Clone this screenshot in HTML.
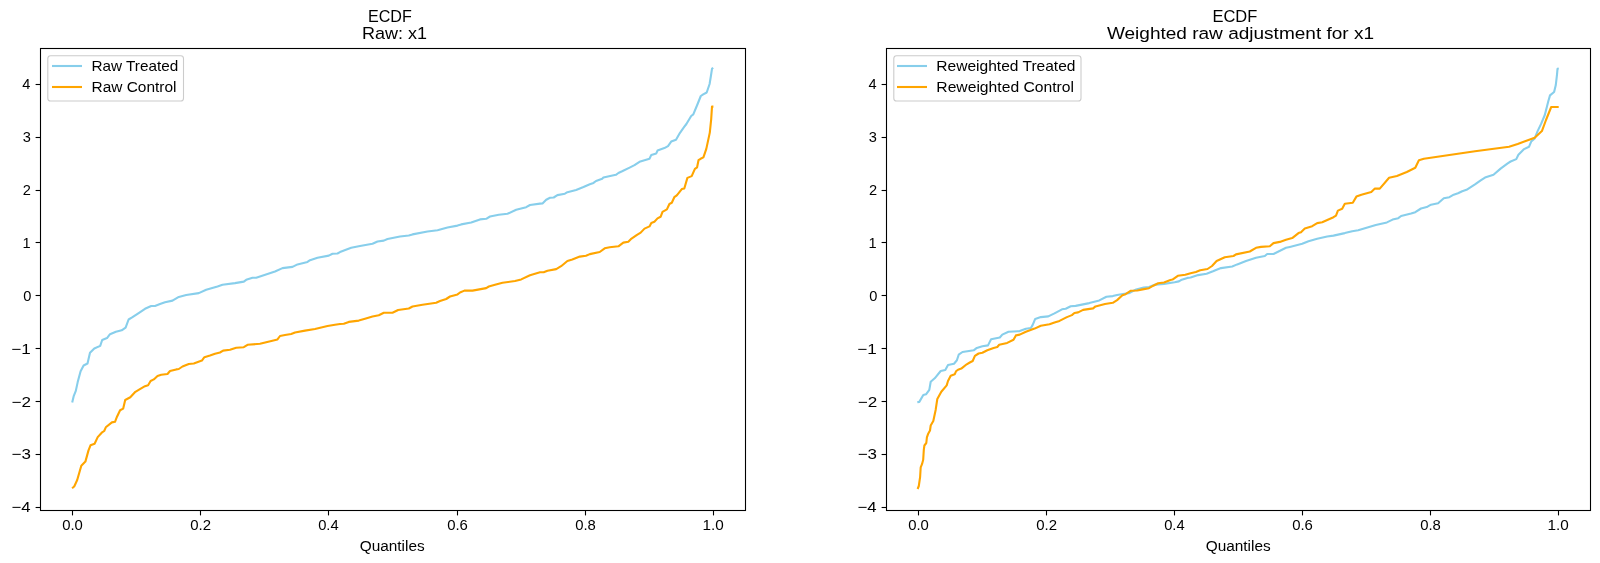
<!DOCTYPE html>
<html><head><meta charset="utf-8"><style>
html,body{margin:0;padding:0;background:#fff;}
svg{display:block;will-change:transform;}
text{font-family:"Liberation Sans",sans-serif;fill:#000;}
.tk{stroke:#000;stroke-width:1.1;}
.sp{fill:none;stroke:#000;stroke-width:1.1;}
.c1{fill:none;stroke:#87ceeb;stroke-width:2.1;stroke-linejoin:round;stroke-linecap:butt;}
.c2{fill:none;stroke:#ffa500;stroke-width:2.1;stroke-linejoin:round;stroke-linecap:butt;}
.lg{fill:#fff;fill-opacity:0.8;stroke:#cccccc;stroke-width:1.1;}
</style></head><body>
<svg width="1600" height="563" viewBox="0 0 1600 563">
<rect width="1600" height="563" fill="#fff"/>
<line x1="72.50" y1="510.5" x2="72.50" y2="515.40" class="tk"/>
<line x1="200.50" y1="510.5" x2="200.50" y2="515.40" class="tk"/>
<line x1="328.50" y1="510.5" x2="328.50" y2="515.40" class="tk"/>
<line x1="457.50" y1="510.5" x2="457.50" y2="515.40" class="tk"/>
<line x1="585.50" y1="510.5" x2="585.50" y2="515.40" class="tk"/>
<line x1="713.50" y1="510.5" x2="713.50" y2="515.40" class="tk"/>
<line x1="35.60" y1="507.50" x2="40.5" y2="507.50" class="tk"/>
<line x1="35.60" y1="454.50" x2="40.5" y2="454.50" class="tk"/>
<line x1="35.60" y1="401.50" x2="40.5" y2="401.50" class="tk"/>
<line x1="35.60" y1="348.50" x2="40.5" y2="348.50" class="tk"/>
<line x1="35.60" y1="295.50" x2="40.5" y2="295.50" class="tk"/>
<line x1="35.60" y1="242.50" x2="40.5" y2="242.50" class="tk"/>
<line x1="35.60" y1="190.50" x2="40.5" y2="190.50" class="tk"/>
<line x1="35.60" y1="137.50" x2="40.5" y2="137.50" class="tk"/>
<line x1="35.60" y1="84.50" x2="40.5" y2="84.50" class="tk"/>
<line x1="918.50" y1="510.5" x2="918.50" y2="515.40" class="tk"/>
<line x1="1046.50" y1="510.5" x2="1046.50" y2="515.40" class="tk"/>
<line x1="1174.50" y1="510.5" x2="1174.50" y2="515.40" class="tk"/>
<line x1="1302.50" y1="510.5" x2="1302.50" y2="515.40" class="tk"/>
<line x1="1430.50" y1="510.5" x2="1430.50" y2="515.40" class="tk"/>
<line x1="1558.50" y1="510.5" x2="1558.50" y2="515.40" class="tk"/>
<line x1="881.60" y1="507.50" x2="886.5" y2="507.50" class="tk"/>
<line x1="881.60" y1="454.50" x2="886.5" y2="454.50" class="tk"/>
<line x1="881.60" y1="401.50" x2="886.5" y2="401.50" class="tk"/>
<line x1="881.60" y1="348.50" x2="886.5" y2="348.50" class="tk"/>
<line x1="881.60" y1="295.50" x2="886.5" y2="295.50" class="tk"/>
<line x1="881.60" y1="242.50" x2="886.5" y2="242.50" class="tk"/>
<line x1="881.60" y1="190.50" x2="886.5" y2="190.50" class="tk"/>
<line x1="881.60" y1="137.50" x2="886.5" y2="137.50" class="tk"/>
<line x1="881.60" y1="84.50" x2="886.5" y2="84.50" class="tk"/>
<polyline class="c1" points="72.2,402.6 73.8,395.8 75.8,390.9 77.7,382.1 80.6,371.3 83.6,365.5 87.5,363.5 90.0,352.8 94.3,348.5 100.2,345.9 102.2,340.0 107.0,338.1 110.0,334.2 115.9,331.7 121.7,330.3 125.6,327.7 128.6,319.5 132.5,317.2 138.3,313.3 145.0,308.8 151.2,306.0 155.0,306.0 160.0,304.0 165.0,302.2 172.5,300.6 178.8,296.9 186.2,295.0 198.8,293.1 206.2,289.8 217.5,286.5 222.5,284.8 235.0,283.1 243.8,281.6 246.2,279.8 252.5,277.8 256.2,277.8 275.0,271.5 282.5,268.1 292.5,266.9 297.5,264.4 307.5,261.9 310.0,260.2 317.5,257.8 328.8,255.6 332.5,253.8 337.5,253.5 340.0,252.1 351.2,247.8 360.0,246.0 372.5,243.8 377.5,241.5 383.8,240.6 387.5,239.0 400.0,236.5 408.8,235.5 412.5,234.4 427.5,231.5 437.5,230.2 447.5,227.5 457.5,225.6 461.2,224.4 471.2,222.5 480.0,219.4 486.2,218.8 490.0,216.5 498.8,214.8 507.5,213.8 516.2,209.8 526.2,207.2 530.0,205.0 540.0,203.6 542.5,203.4 546.2,199.7 550.0,197.8 553.7,197.5 557.4,195.1 564.9,193.7 567.4,192.2 576.1,190.0 583.5,187.0 589.8,184.2 593.5,182.9 596.0,181.0 602.2,178.8 603.4,177.6 615.9,174.8 618.4,173.0 622.1,171.3 629.6,167.6 634.5,165.1 639.5,161.8 649.5,158.7 651.3,154.9 656.3,153.4 657.5,150.6 664.4,148.1 668.0,146.1 671.2,141.6 676.0,139.7 680.0,132.8 684.0,127.2 686.4,124.0 691.2,116.0 693.3,114.4 697.6,104.0 700.8,96.0 703.2,94.4 706.7,92.5 709.6,84.0 710.9,76.0 712.0,68.8 713.1,67.7"/>
<polyline class="c2" points="72.1,488.2 74.2,486.5 77.2,480.0 81.3,465.7 85.4,461.6 88.5,450.4 90.5,445.3 94.6,443.7 97.7,437.1 101.7,432.7 104.2,431.0 105.8,427.3 111.9,422.4 115.0,421.8 117.0,416.7 120.1,410.2 123.2,408.6 125.2,400.0 130.3,397.3 135.4,391.8 139.5,389.4 145.0,386.2 148.1,385.2 150.6,381.0 153.8,379.4 157.5,376.0 161.2,374.8 167.5,374.0 170.0,371.0 176.2,369.4 178.8,369.0 182.5,366.5 188.8,364.0 193.8,363.5 201.9,360.6 204.4,357.2 210.0,355.6 215.0,353.8 220.0,352.5 223.1,350.6 230.0,349.8 236.2,347.8 243.8,347.2 247.5,344.8 260.0,343.8 266.2,342.2 277.5,339.4 280.0,336.0 285.0,335.0 291.2,334.0 295.0,332.5 305.0,330.6 315.0,329.0 327.5,326.0 335.0,324.8 340.0,324.0 343.8,323.8 348.8,321.9 358.8,320.6 365.0,318.8 372.5,316.5 378.8,315.2 383.8,312.8 392.5,312.8 398.1,310.0 408.8,308.5 412.5,306.5 422.5,304.8 436.2,302.8 440.0,301.0 446.2,299.0 450.0,296.5 457.5,294.4 460.0,292.5 464.4,290.6 472.5,290.6 486.2,288.1 488.8,286.5 495.0,284.8 502.5,282.8 515.0,281.0 521.2,279.4 530.0,275.2 540.0,272.3 543.7,272.2 547.5,270.7 556.2,269.1 561.1,266.2 567.4,261.0 572.3,259.5 579.8,256.6 586.0,255.7 589.8,254.1 599.7,252.0 604.7,248.3 609.7,247.3 618.4,246.3 623.3,242.6 628.3,241.7 630.8,239.2 637.0,234.9 640.7,232.6 644.5,228.6 649.5,226.4 651.3,223.0 654.4,221.8 657.5,218.4 660.6,216.8 662.5,211.8 666.9,209.4 669.4,204.0 671.8,202.8 674.3,197.2 676.8,195.3 681.8,189.1 684.3,188.5 687.4,177.9 691.7,176.1 694.9,168.8 697.1,167.3 698.5,160.2 700.6,158.8 703.4,157.4 706.3,148.9 709.8,132.6 711.2,119.1 712.0,106.6 713.4,106.6"/>
<polyline class="c1" points="917.3,402.3 919.3,401.9 923.3,395.0 926.0,394.3 929.3,389.9 930.7,381.7 934.7,378.3 940.7,371.0 945.3,369.9 948.0,365.0 954.0,363.7 956.9,360.3 958.7,354.7 962.5,352.0 967.4,351.2 973.7,350.3 976.8,347.9 982.4,346.2 988.0,345.4 991.1,339.2 999.8,337.5 1002.3,334.6 1008.5,331.7 1019.7,331.1 1025.9,328.8 1030.9,328.0 1032.7,324.9 1035.2,318.9 1040.8,317.1 1048.3,316.4 1054.5,313.4 1062.0,309.3 1065.7,308.7 1070.7,306.2 1075.6,305.9 1089.3,303.1 1099.3,300.4 1106.4,296.7 1112.8,296.1 1117.1,295.0 1124.5,293.7 1128.8,293.2 1136.2,289.4 1143.7,287.5 1149.0,287.1 1155.4,284.6 1164.0,283.9 1174.6,282.2 1178.9,281.4 1181.0,280.1 1187.4,277.9 1190.6,277.5 1198.1,275.1 1206.6,273.7 1213.0,271.3 1216.0,270.0 1221.0,268.1 1232.2,266.5 1237.2,264.4 1246.0,261.0 1256.0,257.8 1264.8,256.0 1267.2,254.0 1273.5,254.0 1286.0,247.8 1289.8,246.9 1302.2,243.8 1308.5,241.2 1317.2,238.8 1327.2,236.5 1333.5,235.6 1344.8,233.1 1352.2,231.2 1358.2,230.3 1375.8,225.0 1386.9,222.4 1392.6,219.6 1398.3,218.2 1401.1,216.0 1411.1,213.6 1415.3,212.2 1421.0,208.5 1426.7,207.1 1431.0,204.7 1438.1,203.3 1443.8,198.3 1449.4,197.2 1453.7,194.7 1458.0,193.3 1462.2,191.2 1466.5,189.8 1475.0,184.4 1480.7,180.4 1485.0,177.6 1493.5,174.7 1500.6,168.6 1507.7,163.3 1510.6,161.5 1516.3,159.1 1518.4,154.8 1521.9,151.3 1524.1,149.1 1529.1,146.7 1531.2,141.6 1534.7,138.4 1537.6,131.1 1541.1,123.9 1544.8,115.0 1548.3,101.2 1550.0,95.4 1554.1,92.0 1555.8,85.0 1557.0,74.6 1557.5,68.9 1558.7,68.3"/>
<polyline class="c2" points="917.6,489.0 918.8,486.0 920.1,477.2 920.7,467.3 922.0,464.2 923.2,459.8 923.8,449.9 924.4,445.5 926.3,443.0 926.9,437.4 928.2,433.7 930.0,430.5 930.7,425.5 933.3,421.0 935.7,409.7 937.3,399.0 941.3,391.7 946.7,385.4 948.0,381.0 950.7,375.7 954.7,374.3 956.0,371.3 958.0,369.7 961.3,368.6 966.7,364.3 969.8,362.5 972.7,361.0 974.9,355.9 978.6,353.5 982.4,352.8 987.3,350.3 993.6,347.9 997.3,347.0 999.2,344.8 1007.2,342.9 1013.5,339.8 1015.9,335.4 1019.7,334.6 1025.9,331.7 1034.6,328.6 1040.8,325.8 1049.5,324.2 1054.5,322.4 1059.5,320.9 1066.9,317.1 1071.9,315.1 1074.4,313.0 1078.1,312.4 1083.1,309.9 1093.1,308.4 1095.5,306.4 1105.0,304.0 1112.8,302.8 1117.1,300.1 1122.4,295.3 1125.6,294.2 1130.9,290.7 1137.3,290.5 1142.6,289.4 1149.0,288.2 1153.3,285.7 1158.1,283.3 1164.0,282.5 1170.4,280.1 1172.5,279.6 1177.8,275.8 1185.3,274.7 1190.6,273.2 1195.9,271.9 1200.2,270.3 1207.5,269.0 1212.0,266.0 1216.6,261.0 1224.8,257.2 1233.5,256.0 1236.0,254.4 1249.8,251.5 1256.0,247.8 1261.0,246.9 1269.8,246.2 1273.5,243.1 1279.8,241.9 1286.0,239.8 1292.2,238.1 1298.5,233.1 1301.0,232.2 1304.8,228.5 1312.2,226.2 1317.2,223.1 1322.2,222.2 1333.5,217.2 1336.0,215.6 1337.9,210.6 1342.2,208.8 1344.8,203.8 1352.8,202.8 1356.4,196.6 1361.4,194.7 1371.3,191.9 1374.9,188.6 1379.8,188.6 1389.1,177.7 1396.9,175.9 1406.8,172.0 1415.3,167.8 1418.9,160.2 1423.9,158.8 1449.4,155.0 1475.0,151.3 1509.1,146.7 1517.7,143.9 1534.7,137.7 1541.9,131.1 1546.0,120.0 1551.2,107.0 1558.7,107.0"/>
<rect x="40.5" y="48.5" width="705.0" height="462.0" class="sp"/>
<rect x="886.5" y="48.5" width="704.0" height="462.0" class="sp"/>
<rect x="47.8" y="55.8" width="135.7" height="45.2" rx="2.8" class="lg"/>
<line x1="52" y1="66.0" x2="82" y2="66.0" class="c1"/>
<line x1="52" y1="87.0" x2="82" y2="87.0" class="c2"/>
<rect x="893.8" y="55.8" width="187.2" height="45.2" rx="2.8" class="lg"/>
<line x1="897" y1="66.0" x2="927" y2="66.0" class="c1"/>
<line x1="897" y1="87.0" x2="927" y2="87.0" class="c2"/>
<text transform="translate(62.17,530.00) scale(1.0180,1)" font-size="14.6">0.0</text>
<text transform="translate(190.17,530.00) scale(1.0266,1)" font-size="14.6">0.2</text>
<text transform="translate(318.17,530.00) scale(1.0103,1)" font-size="14.6">0.4</text>
<text transform="translate(447.17,530.00) scale(1.0219,1)" font-size="14.6">0.6</text>
<text transform="translate(575.17,530.00) scale(1.0211,1)" font-size="14.6">0.8</text>
<text transform="translate(702.59,530.00) scale(1.0475,1)" font-size="14.6">1.0</text>
<text transform="translate(11.38,512.29) scale(1.1480,1)" font-size="14.6">−4</text>
<text transform="translate(11.57,459.43) scale(1.1644,1)" font-size="14.6">−3</text>
<text transform="translate(11.56,406.57) scale(1.1712,1)" font-size="14.6">−2</text>
<text transform="translate(11.16,353.71) scale(1.1700,1)" font-size="14.6">−1</text>
<text transform="translate(23.25,300.85) scale(1.0000,1)" font-size="14.6">0</text>
<text transform="translate(22.40,247.99) scale(1.0000,1)" font-size="14.6">1</text>
<text transform="translate(22.81,195.13) scale(1.0000,1)" font-size="14.6">2</text>
<text transform="translate(22.72,142.27) scale(1.0000,1)" font-size="14.6">3</text>
<text transform="translate(22.31,89.41) scale(1.0000,1)" font-size="14.6">4</text>
<text transform="translate(908.17,530.00) scale(1.0180,1)" font-size="14.6">0.0</text>
<text transform="translate(1036.17,530.00) scale(1.0266,1)" font-size="14.6">0.2</text>
<text transform="translate(1164.17,530.00) scale(1.0103,1)" font-size="14.6">0.4</text>
<text transform="translate(1292.17,530.00) scale(1.0219,1)" font-size="14.6">0.6</text>
<text transform="translate(1420.17,530.00) scale(1.0211,1)" font-size="14.6">0.8</text>
<text transform="translate(1547.59,530.00) scale(1.0475,1)" font-size="14.6">1.0</text>
<text transform="translate(857.48,512.29) scale(1.1480,1)" font-size="14.6">−4</text>
<text transform="translate(857.67,459.43) scale(1.1644,1)" font-size="14.6">−3</text>
<text transform="translate(857.66,406.57) scale(1.1712,1)" font-size="14.6">−2</text>
<text transform="translate(857.26,353.71) scale(1.1700,1)" font-size="14.6">−1</text>
<text transform="translate(869.35,300.85) scale(1.0000,1)" font-size="14.6">0</text>
<text transform="translate(868.50,247.99) scale(1.0000,1)" font-size="14.6">1</text>
<text transform="translate(868.91,195.13) scale(1.0000,1)" font-size="14.6">2</text>
<text transform="translate(868.82,142.27) scale(1.0000,1)" font-size="14.6">3</text>
<text transform="translate(868.41,89.41) scale(1.0000,1)" font-size="14.6">4</text>
<text transform="translate(91.55,71.00) scale(1.0479,1)" font-size="14.6">Raw Treated</text>
<text transform="translate(91.53,92.00) scale(1.0594,1)" font-size="14.6">Raw Control</text>
<text transform="translate(936.32,71.00) scale(1.0651,1)" font-size="14.6">Reweighted Treated</text>
<text transform="translate(936.31,92.00) scale(1.0749,1)" font-size="14.6">Reweighted Control</text>
<text transform="translate(367.88,22.00) scale(0.9262,1)" font-size="17.4">ECDF</text>
<text transform="translate(362.12,39.20) scale(1.0352,1)" font-size="17.4">Raw: x1</text>
<text transform="translate(1212.40,22.00) scale(0.9472,1)" font-size="17.4">ECDF</text>
<text transform="translate(1106.90,39.30) scale(1.0944,1)" font-size="17.4">Weighted raw adjustment for x1</text>
<text transform="translate(359.68,550.80) scale(1.0550,1)" font-size="14.6">Quantiles</text>
<text transform="translate(1205.68,550.80) scale(1.0550,1)" font-size="14.6">Quantiles</text>
</svg>
</body></html>
